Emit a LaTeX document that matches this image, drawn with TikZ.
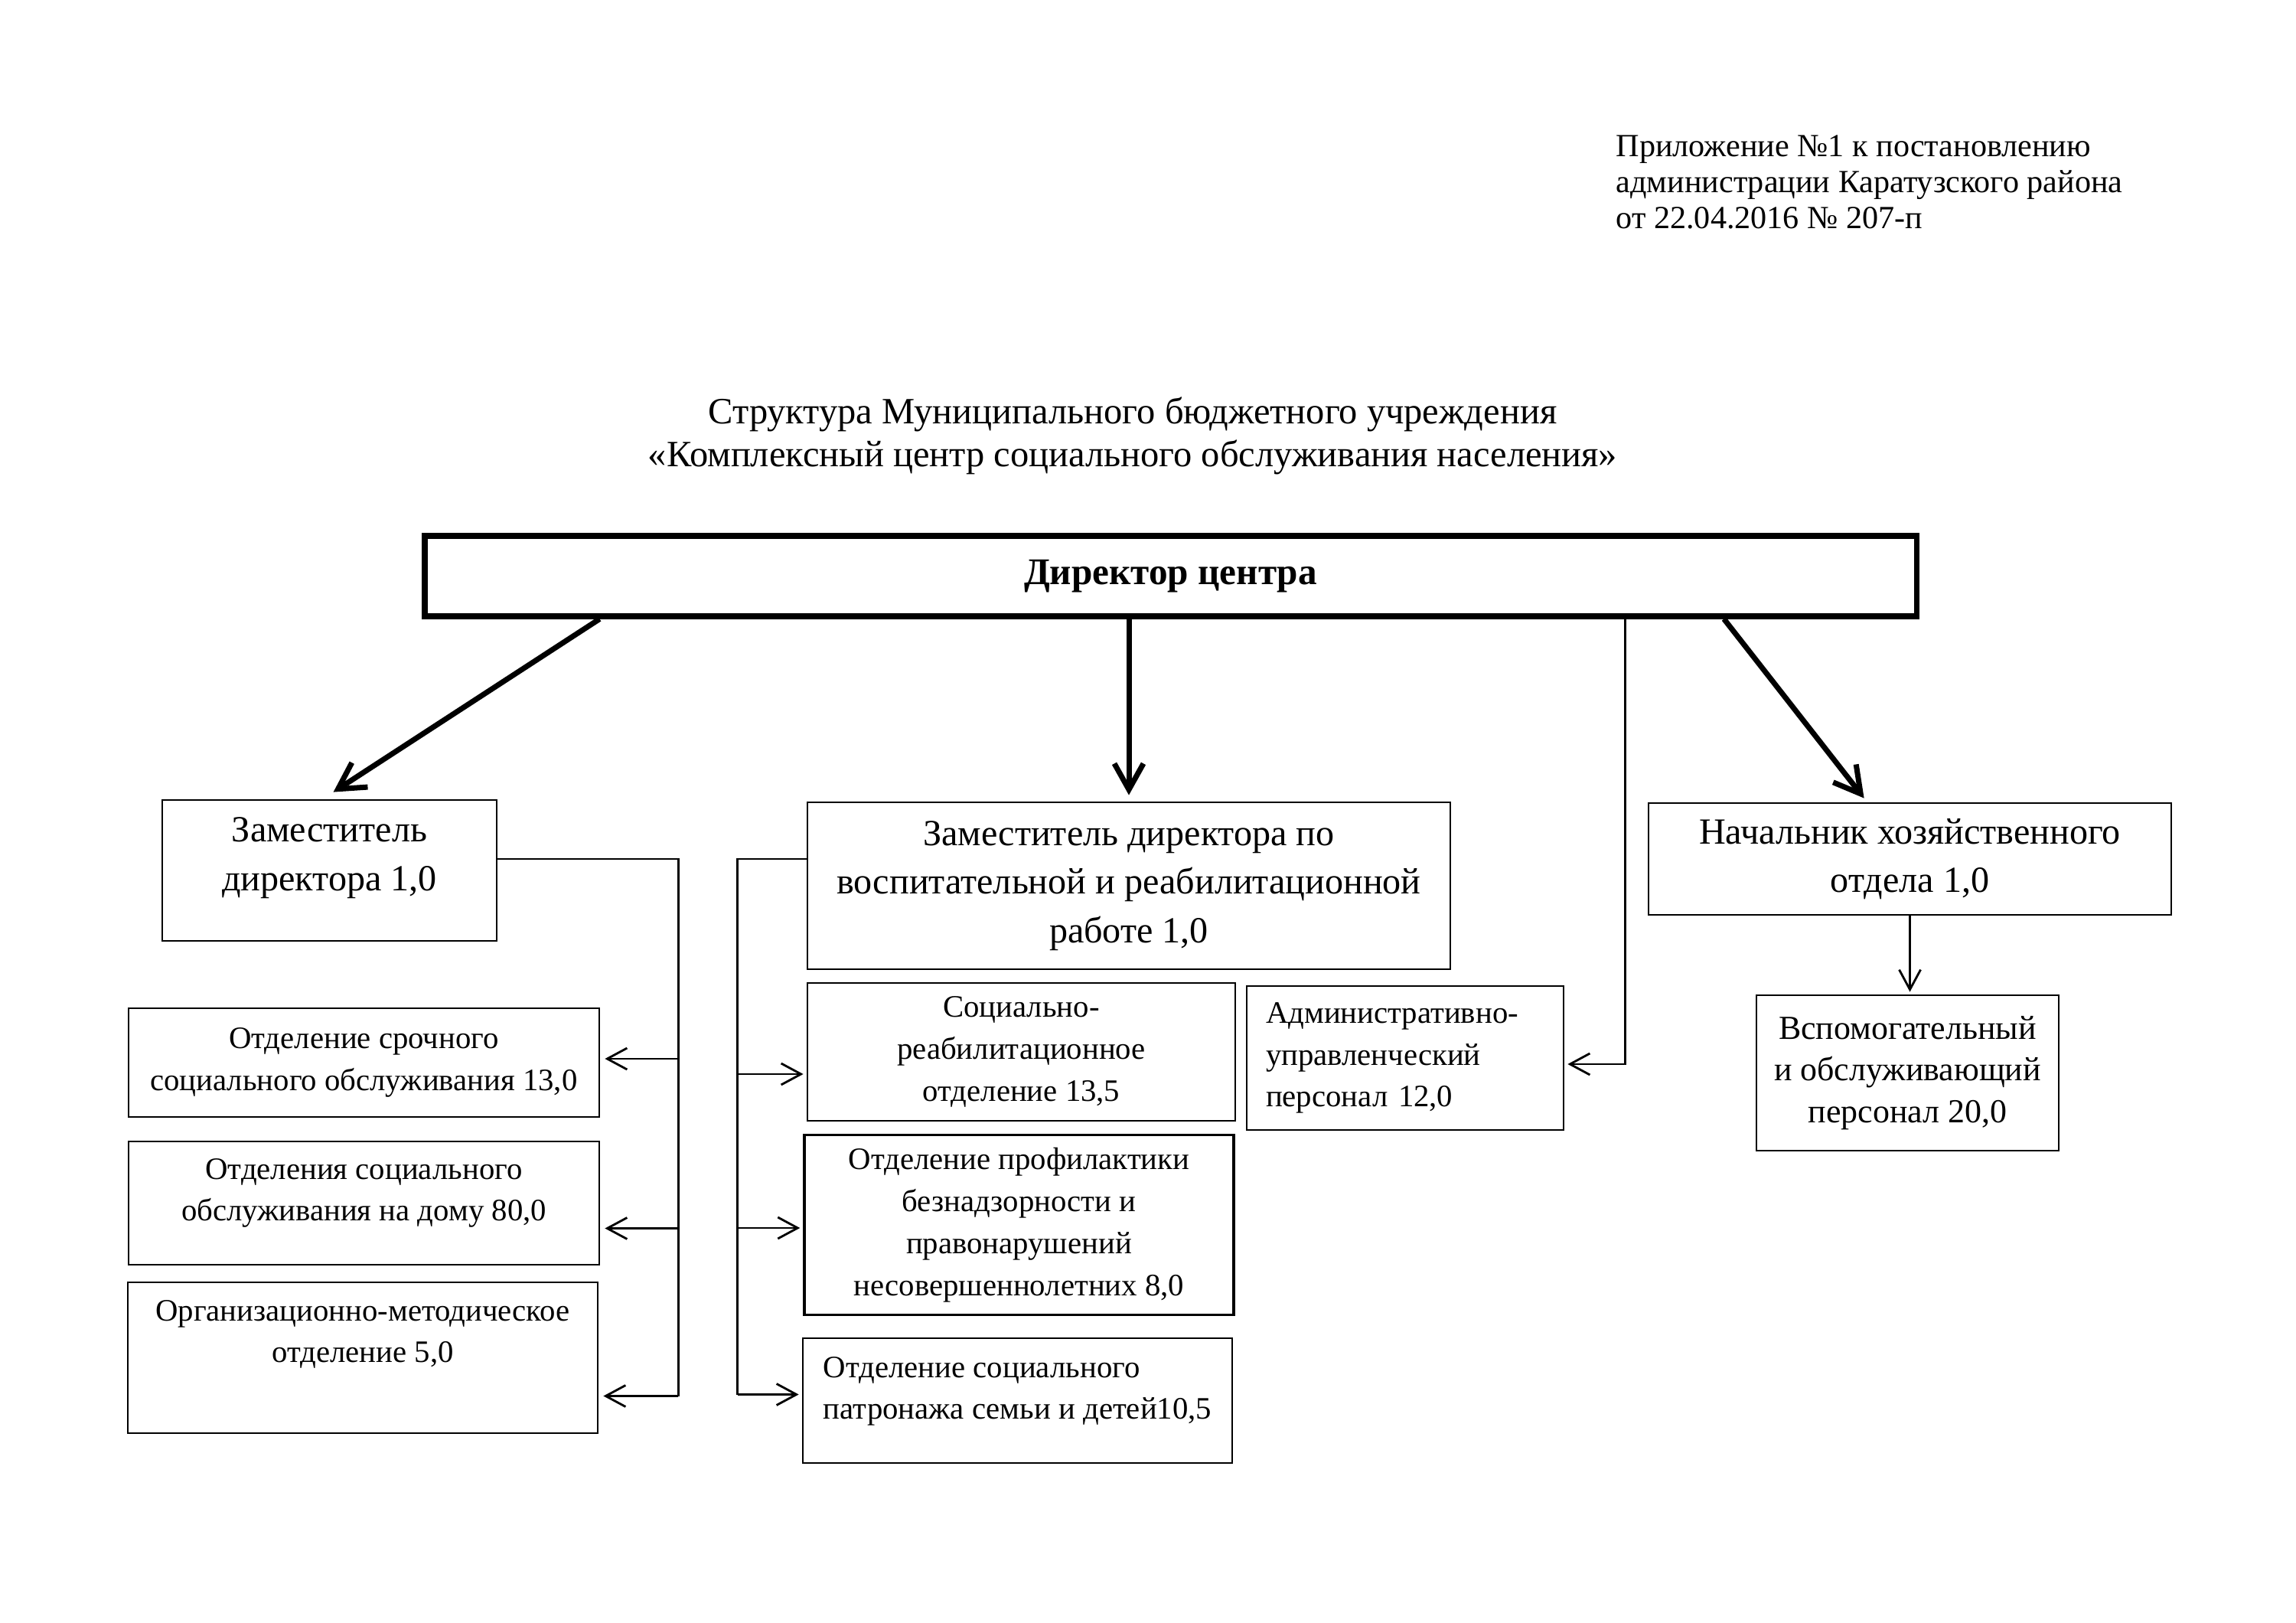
\documentclass[tikz,border=0pt]{standalone}
\usepackage{fontspec}
\setmainfont{Liberation Serif}
\usetikzlibrary{arrows.meta}
\tikzset{
    note-text/.style = {inner sep=0pt, align=left, font=\fontsize{12}{13.3}\selectfont},
    title-text/.style = {inner sep=0pt, align=center, font=\fontsize{13.8}{15.9}\selectfont},
    head-box/.style = {draw, line width=2pt, rectangle, inner sep=0pt, minimum width=19.49cm, minimum height=1.05cm, font=\fontsize{14}{18}\selectfont\bfseries},
    deputy-box/.style = {draw, line width=0.8pt, rectangle, inner sep=0pt, align=center, font=\fontsize{13.7}{18}\selectfont},
    unit-box/.style = {draw, line width=0.8pt, rectangle, inner sep=0pt, align=center, font=\fontsize{11.6}{15.6}\selectfont},
    box-size/.style 2 args = {minimum width=#1cm, minimum height=#2cm},
    main-arrow/.style = {line width=2pt, -{Straight Barb[length=3.4mm,width=3.8mm]}},
    link/.style = {line width=0.8pt},
    link-arrow/.style = {line width=0.8pt, -{Straight Barb[length=2.6mm,width=2.8mm]}},
}
\begin{document}
\begin{tikzpicture}[x=1cm, y=-1cm]
\useasboundingbox (0,0) rectangle (30,21.2);
\node[note-text, anchor=north west] (appendix) at (21.11,1.76) {Приложение №1 к постановлению\\администрации Каратузского района\\от 22.04.2016 № 207-п};
\node[title-text] (title) at (14.8,5.69) {Структура Муниципального бюджетного учреждения\\«Комплексный центр социального обслуживания населения»};
\node[head-box] (director) at (15.295,7.525) {Директор центра};
\node[deputy-box, box-size={4.37}{1.84}, text depth=4.3mm] (deputy) at (4.305,11.37) {Заместитель\\директора 1,0};
\node[deputy-box, box-size={8.40}{2.18}] (rehab-deputy) at (14.75,11.57) {Заместитель директора по\\воспитательной и реабилитационной\\работе 1,0};
\node[deputy-box, box-size={6.83}{1.46}] (supply-head) at (24.955,11.22) {Начальник хозяйственного\\отдела 1,0};
\node[unit-box, box-size={3.95}{2.03}, font=\fontsize{12.5}{15.6}\selectfont] (support) at (24.925,14.015) {Вспомогательный\\и обслуживающий\\персонал 20,0};
\node[unit-box, box-size={6.15}{1.42}] (urgent) at (4.755,13.88) {Отделение срочного\\социального обслуживания 13,0};
\node[unit-box, box-size={6.15}{1.61}, text depth=3.5mm] (home) at (4.755,15.715) {Отделения социального\\обслуживания на дому 80,0};
\node[unit-box, box-size={6.14}{1.97}, text depth=6.9mm] (method) at (4.74,17.735) {Организационно-методическое\\отделение 5,0};
\node[unit-box, box-size={5.59}{1.80}] (rehab) at (13.345,13.74) {Социально-\\реабилитационное\\отделение 13,5};
\node[unit-box, box-size={5.61}{2.35}, line width=1pt] (prevent) at (13.315,16.0) {Отделение профилактики\\безнадзорности и\\правонарушений\\несовершеннолетних 8,0};
\node[unit-box, box-size={5.61}{1.63}, align=left, text depth=3.3mm] (patronage) at (13.295,18.295) {Отделение социального\\патронажа семьи и детей10,5};
\node[unit-box, box-size={4.14}{1.88}, align=left, inner xsep=2.5mm, text width=3.64cm] (admin) at (18.36,13.82) {Административно-\\управленческий\\персонал 12,0};

\draw[main-arrow] ([xshift=2.32cm]director.south west) -- ([xshift=2.25cm,yshift=0.9mm]deputy.north west);
\draw[main-arrow] (rehab-deputy.north |- director.south) -- ([yshift=0.8mm]rehab-deputy.north);
\draw[main-arrow] ([xshift=-2.55cm]director.south east) -- ([xshift=2.83cm,yshift=0.5mm]supply-head.north west);
\draw[link-arrow] ([xshift=-3.84cm]director.south east) |- ([xshift=0.4mm,yshift=-0.8mm]admin.east);
\draw[link-arrow] (supply-head.south) -- ([yshift=0.3mm]supply-head.south |- support.north);

\coordinate (left-bus) at ([xshift=2.36cm,yshift=1.5mm]deputy.east);
\coordinate (urgent-in) at ([xshift=0.6mm,yshift=0.5mm]urgent.east);
\coordinate (home-in) at ([xshift=0.6mm,yshift=-3.3mm]home.east);
\coordinate (method-in) at ([xshift=0.6mm,yshift=-5mm]method.east);
\draw[link] ([yshift=1.5mm]deputy.east) -- (left-bus) -- (left-bus |- method-in);
\foreach \unit in {urgent-in, home-in, method-in}
    \draw[link-arrow] (left-bus |- \unit) -- (\unit);

\coordinate (mid-bus) at ([xshift=-0.9cm,yshift=3.5mm]rehab-deputy.west);
\coordinate (rehab-in) at ([xshift=-0.4mm,yshift=-2.9mm]rehab.west);
\coordinate (prevent-in) at ([xshift=-0.4mm,yshift=-0.4mm]prevent.west);
\coordinate (patronage-in) at ([xshift=-0.4mm,yshift=0.8mm]patronage.west);
\draw[link] ([yshift=3.5mm]rehab-deputy.west) -- (mid-bus) -- (mid-bus |- patronage-in);
\foreach \unit in {rehab-in, prevent-in, patronage-in}
    \draw[link-arrow] (mid-bus |- \unit) -- (\unit);
\end{tikzpicture}
\end{document}
